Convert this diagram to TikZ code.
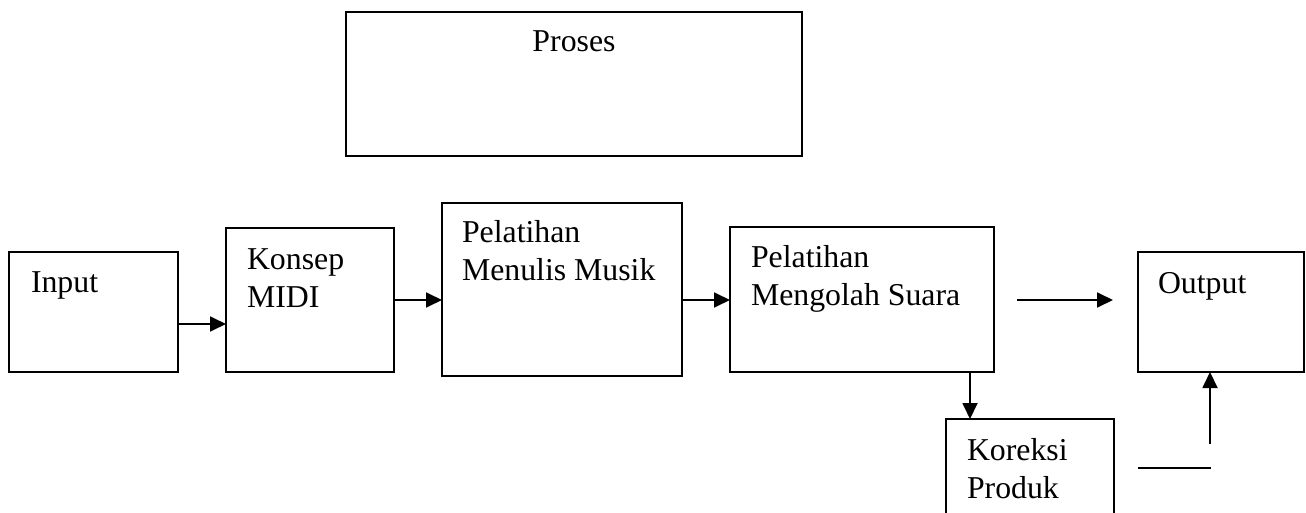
\documentclass[tikz,border=0pt]{standalone}
\usepackage{fontspec}
\setmainfont{Liberation Serif}
\usetikzlibrary{arrows.meta}
\tikzset{
  box/.style={draw, line width=1.8pt, inner sep=0pt, outer sep=0pt, anchor=north west},
  lbl/.style={anchor=base west, inner sep=0pt, outer sep=0pt, font=\fontsize{31.8}{38}\selectfont},
  arr/.style={line width=1.8pt, -{Triangle[length=16pt,width=15pt]}},
  ln/.style={line width=1.8pt},
}
\begin{document}
\begin{tikzpicture}[x=1pt,y=-1pt]
\useasboundingbox (0,0) rectangle (1306,513);
\clip (0,0) rectangle (1306,513);
% boxes
\node[box, minimum width=456pt, minimum height=144pt] (proses) at (346,12) {};
\node[box, minimum width=169pt, minimum height=120pt] (input) at (9,252) {};
\node[box, minimum width=168pt, minimum height=144pt] (konsep) at (226,228) {};
\node[box, minimum width=240pt, minimum height=173pt] (menulis) at (442,203) {};
\node[box, minimum width=264pt, minimum height=145pt] (suara) at (730,227) {};
\node[box, minimum width=166pt, minimum height=120pt] (output) at (1138,252) {};
\node[box, minimum width=168pt, minimum height=120pt] (koreksi) at (946,419) {};
% texts
\node[lbl, anchor=base] (tproses) at (574,52) {Proses};
\node[lbl] (tinput) at (31,292) {Input};
\node[lbl] (tkonsep) at (247,269) {\vtop{\hbox{Konsep}\hbox{MIDI}}};
\node[lbl] (tmenulis) at (462,243) {\vtop{\hbox{Pelatihan}\hbox{Menulis Musik}}};
\node[lbl] (tsuara) at (751,267) {\vtop{\hbox{Pelatihan}\hbox{Mengolah Suara}}};
\node[lbl] (toutput) at (1158,293) {Output};
\node[lbl] (tkoreksi) at (967,460) {\vtop{\hbox{Koreksi}\hbox{Produk}}};
% helper coordinates
\coordinate (y1) at (0,324);
\coordinate (y2) at (0,300);
\coordinate (a1) at (1017,300);
\coordinate (a2) at (1113,300);
\coordinate (kx) at (970,0);
\coordinate (l1) at (1138,468);
\coordinate (l2) at (1211,468);
\coordinate (v1) at (1210,444);
% connectors
\draw[arr] (input.east |- y1) -- (konsep.west |- y1);
\draw[arr] (konsep.east |- y2) -- (menulis.west |- y2);
\draw[arr] (menulis.east |- y2) -- (suara.west |- y2);
\draw[arr] (a1) -- (a2);
\draw[arr] (suara.south -| kx) -- (koreksi.north -| kx);
\draw[ln] (l1) -- (l2);
\draw[arr] (v1) -- (output.south -| v1);
\end{tikzpicture}
\end{document}
